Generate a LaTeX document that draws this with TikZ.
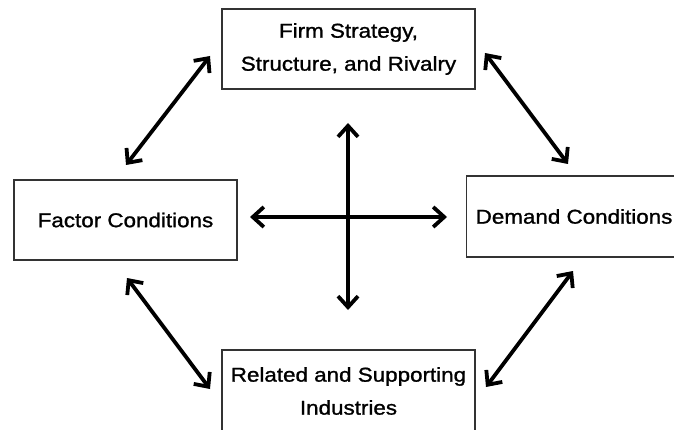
\documentclass[tikz,border=0pt]{standalone}
\usepackage{fontspec}
\setmainfont{Liberation Sans}[FakeStretch=1.12,FakeBold=1.2]
\usepackage{tikz}
\usetikzlibrary{arrows.meta,positioning}

\begin{document}
\begin{tikzpicture}[x=1pt,y=-1pt,
  box/.style={draw=black!80, line width=1.4pt, align=center, inner sep=0pt,
    font=\fontsize{20}{33}\selectfont},
  dbl/.style={{Straight Barb[length=11pt,width=20pt]}-{Straight Barb[length=11pt,width=20pt]},
    line width=3.8pt}]
\clip (0,0) rectangle (674,430);

\node[box, minimum width=253, minimum height=80] (firm) at (348.5,49) {Firm Strategy,\\Structure, and Rivalry};
\node[box, minimum width=223, minimum height=80] (factor) at (125.5,220) {Factor Conditions};
\node[box, minimum height=81, anchor=west, inner xsep=9pt] (demand) at (466,216.5) {Demand Conditions};
\node[box, minimum width=253, minimum height=82] (related) at (348.5,391) {Related and Supporting\\Industries};

% arrow ends
\coordinate (tl1) at (126,165);
\coordinate (tl2) at (210,56);
\coordinate (tr1) at (485,53);
\coordinate (tr2) at (568,164);
\coordinate (bl1) at (127,278);
\coordinate (bl2) at (210,389);
\coordinate (br1) at (573,271);
\coordinate (br2) at (486,387);
\coordinate (up) at (348,123);
\coordinate (down) at (348,310);
\coordinate (left) at (250,217);
\coordinate (right) at (447,217);

\draw[dbl] (tl1) to (tl2);
\draw[dbl] (tr1) to (tr2);
\draw[dbl] (bl1) to (bl2);
\draw[dbl] (br1) to (br2);
\draw[dbl] (up) to (down);
\draw[dbl] (left) to (right);
\end{tikzpicture}
\end{document}
